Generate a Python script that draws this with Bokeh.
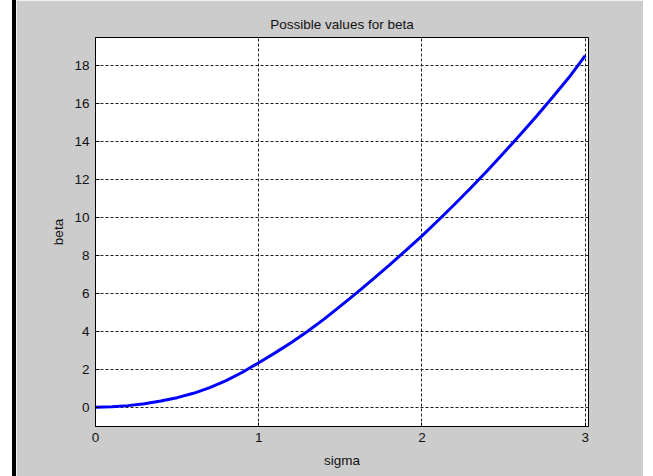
from bokeh.plotting import figure
from bokeh.models import Range1d, FixedTicker
from bokeh.embed import file_html
from bokeh.resources import INLINE

# Data
sigma = [0.0, 0.1, 0.2, 0.3, 0.4, 0.5, 0.6, 0.7, 0.8, 0.9, 1.0,
         1.1, 1.2, 1.3, 1.4, 1.5, 1.6, 1.7, 1.8, 1.9, 2.0,
         2.1, 2.2, 2.3, 2.4, 2.5, 2.6, 2.7, 2.8, 2.9, 3.0]
beta = [0.02, 0.04, 0.10, 0.20, 0.34, 0.52, 0.75, 1.05, 1.42, 1.86, 2.36,
        2.88, 3.43, 4.02, 4.66, 5.34, 6.04, 6.77, 7.51, 8.27, 9.05,
        9.87, 10.71, 11.58, 12.48, 13.41, 14.36, 15.34, 16.35, 17.39, 18.55]
x_ticks = [0, 1, 2, 3]
y_ticks = [0, 2, 4, 6, 8, 10, 12, 14, 16, 18]

FONT = "Liberation Sans"
GREY = "#cccccc"

p = figure(width=631, height=476,
           x_range=Range1d(0, 3.02), y_range=Range1d(-1, 19.5),
           output_backend="svg", toolbar_location=None,
           min_border_left=79, min_border_right=59,
           min_border_top=37, min_border_bottom=50,
           title="Possible values for beta")
p.styles = {"margin-left": "12px", "border-left": "4px solid black"}

p.border_fill_color = GREY
p.background_fill_color = "white"
p.outline_line_color = "black"
p.outline_line_width = 1

p.title.align = "center"
p.title.text_font = FONT
p.title.text_font_size = "13.5px"
p.title.text_font_style = "normal"
p.title.text_color = "#111111"
p.title.offset = 0
p.title.standoff = 11

p.line(sigma, beta, line_color="#0000ff", line_width=3)

for ax in (p.xaxis[0], p.yaxis[0]):
    ax.major_label_text_font = FONT
    ax.major_label_text_font_size = "13.5px"
    ax.major_label_text_color = "#111111"
    ax.axis_label_text_font = FONT
    ax.axis_label_text_font_size = "13.5px"
    ax.axis_label_text_font_style = "normal"
    ax.axis_label_text_color = "#111111"
    ax.axis_line_color = "black"
    ax.major_tick_in = 4
    ax.major_tick_out = 0
    ax.minor_tick_line_color = None
    ax.major_tick_line_color = "black"

p.xaxis[0].ticker = FixedTicker(ticks=x_ticks)
p.yaxis[0].ticker = FixedTicker(ticks=y_ticks)
p.xaxis[0].axis_label = "sigma"
p.yaxis[0].axis_label = "beta"
p.xaxis[0].major_label_standoff = 6
p.xaxis[0].axis_label_standoff = 8
p.yaxis[0].major_label_standoff = 6
p.yaxis[0].axis_label_standoff = 5

p.xgrid[0].ticker = FixedTicker(ticks=x_ticks)
p.ygrid[0].ticker = FixedTicker(ticks=y_ticks)
for g in (p.xgrid[0], p.ygrid[0]):
    g.grid_line_color = "#222222"
    g.grid_line_dash = "3 2"
    g.grid_line_width = 1

open("out.html", "w").write(file_html(p, INLINE))
